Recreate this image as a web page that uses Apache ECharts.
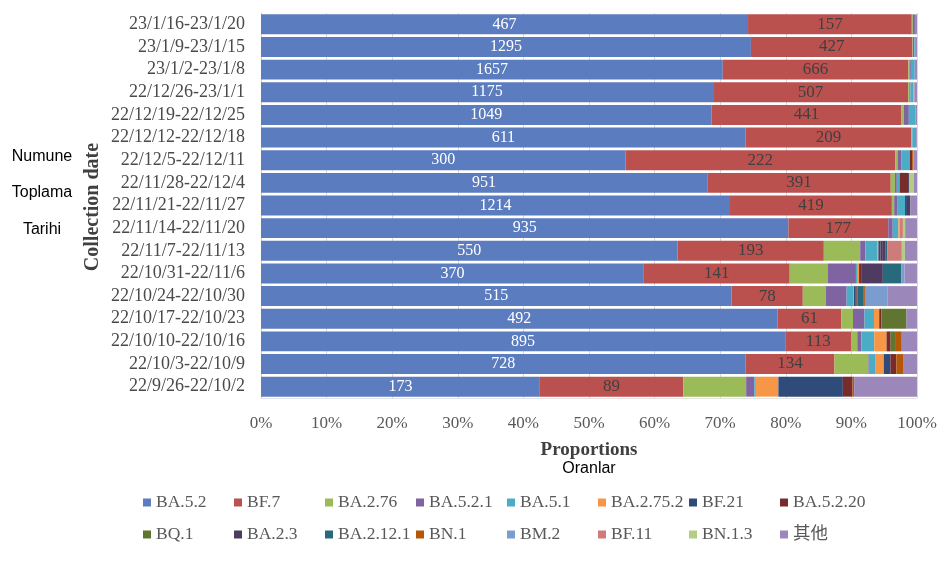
<!DOCTYPE html>
<html>
<head>
<meta charset="utf-8">
<script src="https://cdn.jsdelivr.net/npm/echarts@6/dist/echarts.min.js"></script>
<style>
html,body{margin:0;padding:0;background:#fff;}
#c{width:945px;height:567px;}
</style>
</head>
<body>
<div id="c"></div>
<script>
// Categories, top to bottom as displayed
const categories = ["23/1/16-23/1/20","23/1/9-23/1/15","23/1/2-23/1/8","22/12/26-23/1/1","22/12/19-22/12/25","22/12/12-22/12/18","22/12/5-22/12/11","22/11/28-22/12/4","22/11/21-22/11/27","22/11/14-22/11/20","22/11/7-22/11/13","22/10/31-22/11/6","22/10/24-22/10/30","22/10/17-22/10/23","22/10/10-22/10/16","22/10/3-22/10/9","22/9/26-22/10/2"];
const xTicks = [0,10,20,30,40,50,60,70,80,90,100];

// Counts per lineage (same row order as categories)
const BA_5_2     = [467,1295,1657,1175,1049,611,300,951,1214,935,550,370,515,492,895,728,173];
const BF_7       = [157,427,666,507,441,209,222,391,419,177,193,141,78,61,113,134,89];
const BA_2_76    = [1,1,4,3,6,1,2,9,6,0,48,37,25,11,10,51,39];
const BA_5_2_1   = [2,4,5,3,12,0,3,4,9,8,7,27,23,11,7,2,5];
const BA_5_1     = [0,2,14,7,16,5,7,6,19,10,16,1,7,9,22,8,1];
const BA_2_75_2  = [0,0,0,3,0,0,0,0,0,2,1,2,1,5,21,13,14];
const BF_21      = [0,0,0,0,0,0,0,0,5,0,3,0,2,0,0,10,40];
const BA_5_2_20  = [0,0,0,0,0,0,2,18,0,0,2,2,1,2,7,9,6];
const BQ_1       = [0,0,0,0,0,0,0,0,0,0,0,0,0,24,9,0,0];
const BA_2_3     = [0,0,0,0,0,0,0,2,9,0,4,21,1,0,0,0,0];
const BA_2_12_1  = [0,0,0,0,0,0,0,0,0,0,3,18,6,0,0,0,0];
const BN_1       = [0,0,0,0,0,0,1,0,0,0,0,0,2,0,10,10,1];
const BM_2       = [0,0,0,0,0,0,0,0,0,0,0,3,25,0,0,0,0];
const BF_11      = [0,0,0,0,0,0,0,0,0,6,19,0,0,0,0,0,0];
const BN_1_3     = [0,0,0,0,0,0,0,10,0,4,4,0,0,0,0,0,0];
const OTHER      = [2,5,8,7,3,1,3,7,17,21,16,12,32,10,26,21,39];

const seriesNames = ["BA.5.2","BF.7","BA.2.76","BA.5.2.1","BA.5.1","BA.2.75.2","BF.21","BA.5.2.20","BQ.1","BA.2.3","BA.2.12.1","BN.1","BM.2","BF.11","BN.1.3","其他"];
const seriesCounts = [BA_5_2,BF_7,BA_2_76,BA_5_2_1,BA_5_1,BA_2_75_2,BF_21,BA_5_2_20,BQ_1,BA_2_3,BA_2_12_1,BN_1,BM_2,BF_11,BN_1_3,OTHER];
const colors = ['#5B7CBE','#BA514F','#9BBB59','#8064A2','#4BACC6','#F79646','#2F4B7A','#772C2A','#5F7530','#4D3B62','#276A7C','#B65708','#7A9CCF','#CF7B79','#B3CD84','#9B87B9'];

const totals = categories.map((_, r) => seriesCounts.reduce((s, arr) => s + arr[r], 0));

const serif = "'Liberation Serif', 'Times New Roman', 'Noto Sans CJK SC', serif";
const sans = "'Liberation Sans', Arial, sans-serif";

const series = seriesNames.map((name, i) => {
  const counts = seriesCounts[i];
  const s = {
    name: name,
    type: 'bar',
    stack: 'total',
    barCategoryGap: '12%',
    itemStyle: { color: colors[i] },
    emphasis: { disabled: true },
    data: counts.map((v, r) => v / totals[r] * 100)
  };
  if (i === 0) {
    s.label = { show: true, position: 'inside', color: '#ffffff', fontFamily: serif, fontSize: 16,
      formatter: p => String(counts[p.dataIndex]) };
  } else if (i === 1) {
    s.label = { show: true, position: 'inside', color: '#404040', fontFamily: serif, fontSize: 17,
      formatter: p => String(counts[p.dataIndex]) };
  }
  return s;
});

const chart = echarts.init(document.getElementById('c'), null, { renderer: 'canvas' });
chart.setOption({
  animation: false,
  backgroundColor: '#ffffff',
  color: colors,
  grid: { left: 261, right: 28, top: 13, bottom: 169 },
  xAxis: {
    type: 'value', min: xTicks[0], max: xTicks[xTicks.length - 1], interval: 10,
    axisLabel: { formatter: '{value}%', fontFamily: serif, fontSize: 17, color: '#595959', margin: 17 },
    axisLine: { show: true, lineStyle: { color: '#e3e3e3' } },
    axisTick: { show: false },
    splitLine: { show: true, lineStyle: { color: '#d9d9d9', width: 1 } }
  },
  yAxis: {
    type: 'category', inverse: true, data: categories,
    axisLabel: { interval: 0, fontFamily: serif, fontSize: 18, color: '#4a4a4a', margin: 16 },
    axisLine: { show: true, lineStyle: { color: '#d0d0d0' } },
    axisTick: { show: false }
  },
  legend: {
    show: true, left: 143, top: 489, width: 740, padding: 0,
    orient: 'horizontal',
    icon: 'rect', itemWidth: 8, itemHeight: 8, itemGap: 5,
    textStyle: { fontFamily: serif, fontSize: 17.5, color: '#595959', width: 73, lineHeight: 27 },
    data: seriesNames
  },
  graphic: [
    { type: 'text', x: 589, y: 450, style: { text: 'Proportions', font: 'bold 19px ' + serif, fill: '#404040', align: 'center', verticalAlign: 'middle' } },
    { type: 'text', x: 589, y: 469, style: { text: 'Oranlar', font: '16px ' + sans, fill: '#000000', align: 'center', verticalAlign: 'middle' } },
    { type: 'text', x: 93, y: 207, rotation: Math.PI / 2, style: { text: 'Collection date', font: 'bold 20px ' + serif, fill: '#404040', align: 'center', verticalAlign: 'middle' } },
    { type: 'text', x: 42, y: 157, style: { text: 'Numune', font: '16px ' + sans, fill: '#000000', align: 'center', verticalAlign: 'middle' } },
    { type: 'text', x: 42, y: 193, style: { text: 'Toplama', font: '16px ' + sans, fill: '#000000', align: 'center', verticalAlign: 'middle' } },
    { type: 'text', x: 42, y: 230, style: { text: 'Tarihi', font: '16px ' + sans, fill: '#000000', align: 'center', verticalAlign: 'middle' } }
  ],
  series: series
});
</script>
</body>
</html>
